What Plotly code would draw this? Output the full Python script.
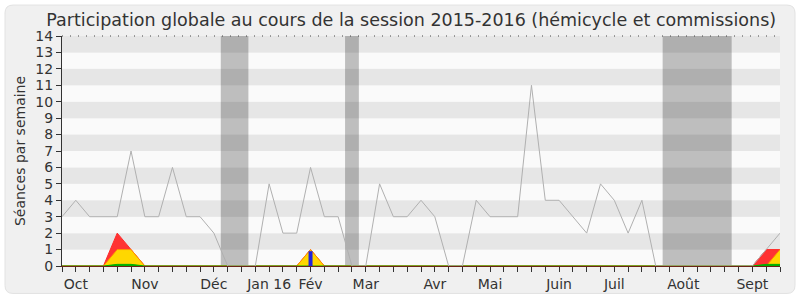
import plotly.graph_objects as go

weeks = list(range(53))
total = [3,4,3,3,3,7,3,3,6,3, 3,2,0,0,0,5,2,2,6,3, 3,0,0,5,3,3,4,3,0,0,
         4,3,3,3,11,4,4,3,2,5, 4,2,4,0,0,0,0,0,0,0, 0,1,2]
red = [0]*53
for i, v in {4: 2, 5: 1, 18: 1, 51: 1, 52: 1}.items():
    red[i] = v
yellow = [0]*53
for i, v in {4: 1, 5: 1, 18: 1, 52: 1}.items():
    yellow[i] = v
green = [0]*53
for i, v in {4: 0.1, 5: 0.1, 51: 0.1, 52: 0.1}.items():
    green[i] = v
blue = [0]*53
blue[18] = 0.9

month_labels = {1: "Oct", 6: "Nov", 11: "Déc", 15: "Jan 16", 18: "Fév", 22: "Mar",
                27: "Avr", 31: "Mai", 36: "Juin", 40: "Juil", 45: "Août", 50: "Sept"}
ticktext = [month_labels.get(w, "") for w in weeks]
vacations = [(11.5, 13.5), (20.5, 21.5), (43.5, 48.5)]

fig = go.Figure()
fig.add_trace(go.Scatter(x=weeks, y=red, mode="lines", fill="tozeroy",
                         fillcolor="#FF3333", line=dict(color="#FF2A2A", width=1)))
fig.add_trace(go.Scatter(x=weeks, y=yellow, mode="lines", fill="tozeroy",
                         fillcolor="#FFD700", line=dict(color="#FF9000", width=1)))
fig.add_trace(go.Scatter(x=weeks, y=green, mode="lines", fill="tozeroy",
                         fillcolor="#00B000", line=dict(color="#00B000", width=1)))
for w, v in zip(weeks, blue):
    if v:
        fig.add_trace(go.Scatter(x=[w, w], y=[0, v], mode="lines",
                                 line=dict(color="#2222DD", width=4)))
fig.add_trace(go.Scatter(x=weeks, y=total, mode="lines",
                         line=dict(color="#B0B0B0", width=1)))

shapes = []
# rounded frame
L, R, T, B = 62, 780, 36, 266.5
W, H = R - L, B - T
def px(x): return (x - L) / W
def py(y): return (B - y) / H
x0, x1, y0, y1, r = 5, 795, 5, 294, 8
path = (f"M {px(x0+r)},{py(y0)} L {px(x1-r)},{py(y0)} Q {px(x1)},{py(y0)} {px(x1)},{py(y0+r)} "
        f"L {px(x1)},{py(y1-r)} Q {px(x1)},{py(y1)} {px(x1-r)},{py(y1)} "
        f"L {px(x0+r)},{py(y1)} Q {px(x0)},{py(y1)} {px(x0)},{py(y1-r)} "
        f"L {px(x0)},{py(y0+r)} Q {px(x0)},{py(y0)} {px(x0+r)},{py(y0)} Z")
shapes.append(dict(type="path", path=path, xref="paper", yref="paper", layer="below",
                   fillcolor="#F0F0F0", line=dict(color="#E2E2E2", width=1)))
# stripes
for k in range(14):
    shapes.append(dict(type="rect", xref="paper", yref="y", x0=0, x1=1, y0=k, y1=k+1,
                       layer="below", line=dict(width=0),
                       fillcolor="#E6E6E6" if k % 2 == 1 else "#FAFAFA"))
for a, b in vacations:
    shapes.append(dict(type="rect", xref="x", yref="paper", x0=a, x1=b, y0=0, y1=1,
                       layer="below", line=dict(width=0), fillcolor="rgba(0,0,0,0.24)"))
# dotted top border
shapes.append(dict(type="line", xref="paper", yref="paper", x0=0, x1=1, y0=1, y1=1,
                   line=dict(color="#444444", width=1, dash="1px,7px")))

fig.update_layout(
    width=800, height=300,
    margin=dict(l=62, r=20, t=36, b=33.5, autoexpand=False),
    paper_bgcolor="white", plot_bgcolor="rgba(0,0,0,0)",
    showlegend=False,
    font=dict(family="DejaVu Sans", color="#333333"),
    title=dict(text="Participation globale au cours de la session 2015-2016 (hémicycle et commissions)",
               x=0.514, xref="container", y=0.062 * 0 + 0.935, yref="container", yanchor="middle",
               font=dict(size=17.5, color="#333333")),
    shapes=shapes,
)
fig.update_xaxes(range=[0, 52], tickmode="array", tickvals=weeks, ticktext=ticktext,
                 ticks="outside", ticklen=5, tickcolor="#333333", showgrid=False,
                 zeroline=False, showline=True, linecolor="#6B2415", linewidth=1,
                 automargin=False,
                 tickfont=dict(size=14, color="#333333"), fixedrange=True)
fig.update_yaxes(range=[0, 14], tickmode="linear", tick0=0, dtick=1,
                 ticks="outside", ticklen=5, tickcolor="#333333", showgrid=False,
                 zeroline=False, showline=True, linecolor="#333333", linewidth=1,
                 automargin=False,
                 tickfont=dict(size=14, color="#333333"),
                 title=dict(text="Séances par semaine", font=dict(size=14, color="#333333"),
                            standoff=6))
fig.write_html("out.html")
